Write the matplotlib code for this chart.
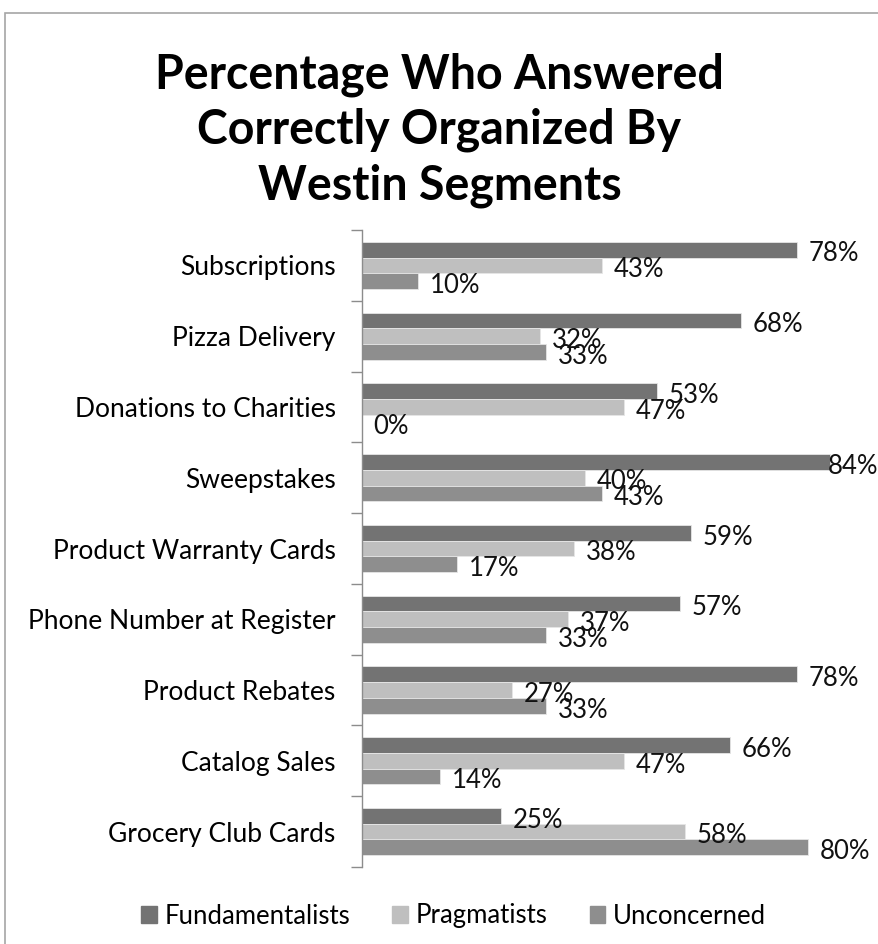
import numpy as np
import matplotlib.pyplot as plt
from matplotlib.patches import Rectangle

plt.rcParams['font.family'] = ['Lato', 'DejaVu Sans']

# survey items, top to bottom
categories = [
    "Subscriptions",
    "Pizza Delivery",
    "Donations to Charities",
    "Sweepstakes",
    "Product Warranty Cards",
    "Phone Number at Register",
    "Product Rebates",
    "Catalog Sales",
    "Grocery Club Cards",
]

# percent answered correctly per Westin segment
fundamentalists = [78, 68, 53, 84, 59, 57, 78, 66, 25]
pragmatists = [43, 32, 47, 40, 38, 37, 27, 47, 58]
unconcerned = [10, 33, 0, 43, 17, 33, 33, 14, 80]

series = [
    ("Fundamentalists", fundamentalists, "#737373"),
    ("Pragmatists", pragmatists, "#bfbfbf"),
    ("Unconcerned", unconcerned, "#8e8e8e"),
]

fig = plt.figure(figsize=(8.79, 9.44), dpi=100)
ax = fig.add_axes([362 / 879, 1 - 867 / 944, (878 - 362) / 879,
                   (867 - 230) / 944])

n = len(categories)
y = np.arange(n)
bar_h = 0.222
x_max = 92.6
label_gap = 2.1
label_w = 8.2  # approx. width of a "NN%" label in data units

for k, (name, vals, color) in enumerate(series):
    pos = y + (k - 1) * bar_h
    ax.barh(pos, vals, height=bar_h, color=color, edgecolor="#e6e6e6",
            linewidth=0.6, label=name)
    for p, v in zip(pos, vals):
        # keep labels inside the plot area, like the spreadsheet does
        if v + label_gap + label_w > x_max:
            ax.text(x_max, p + 0.06, f"{v}%", va="center", ha="right",
                    fontsize=18.5, color="#111111")
        else:
            ax.text(v + label_gap, p + 0.06, f"{v}%", va="center",
                    ha="left", fontsize=18.5, color="#111111")

ax.set_ylim(n - 0.5, -0.5)
ax.set_xlim(0, x_max)

ax.set_yticks(y)
ax.set_yticklabels(categories, fontsize=19)
ax.set_yticks(np.arange(n + 1) - 0.5, minor=True)
ax.tick_params(axis="y", which="major", length=0, pad=19)
ax.tick_params(axis="y", which="minor", length=8, width=1, color="#8c8c8c",
               direction="out")
ax.set_xticks([])

for s in ["top", "right", "bottom"]:
    ax.spines[s].set_visible(False)
ax.spines["left"].set_color("#8c8c8c")
ax.spines["left"].set_linewidth(1)

fig.text(0.5, 1 - 130 / 944,
         "Percentage Who Answered\nCorrectly Organized By\nWestin Segments",
         ha="center", va="center", fontsize=33.5, fontweight="bold",
         linespacing=1.3)

handles = [Rectangle((0, 0), 1, 1, color=c) for _, _, c in series]
fig.legend(handles, [s[0] for s in series], loc="center",
           bbox_to_anchor=(0.516, 1 - 916 / 944), ncol=3, frameon=False,
           fontsize=18.5, handlelength=0.6, handleheight=0.6,
           handletextpad=0.3, columnspacing=1.65)

# chart frame
fig.patches.append(Rectangle((5 / 879, -0.1), 1.2, 1.1 - 13 / 944,
                             transform=fig.transFigure, fill=False,
                             edgecolor="#a6a6a6", linewidth=1.2))

fig.savefig("out.png", dpi=100)
